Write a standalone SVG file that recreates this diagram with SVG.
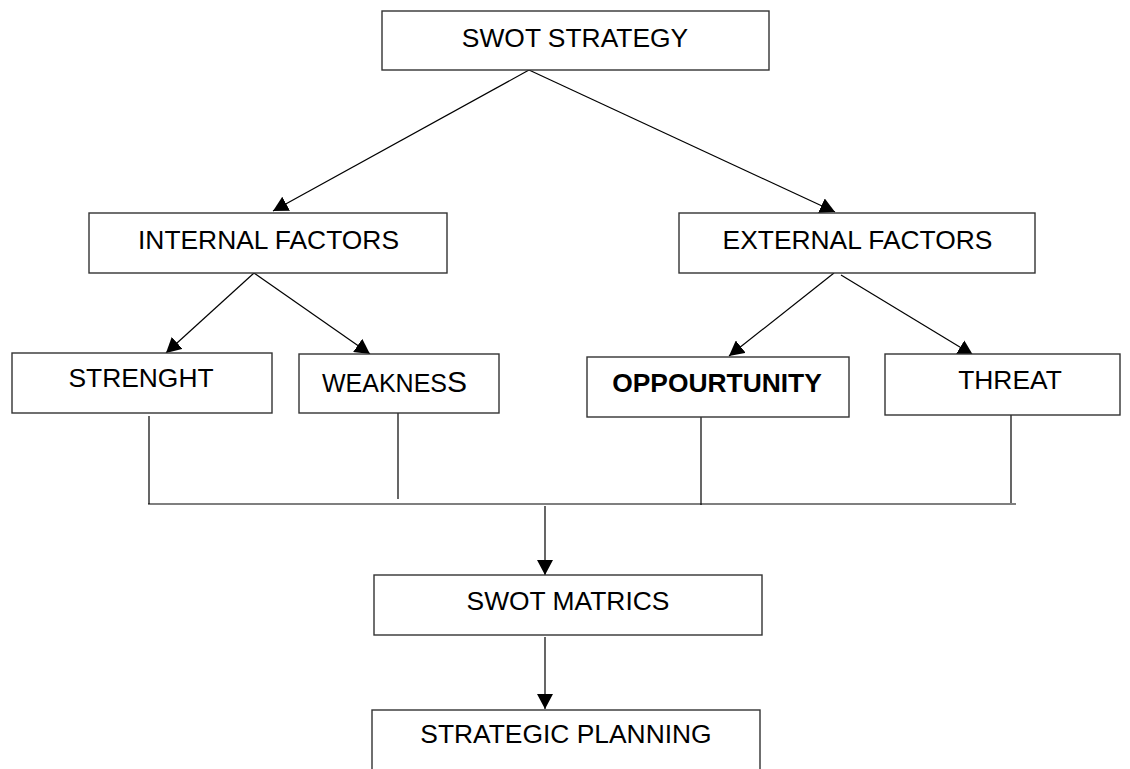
<svg xmlns="http://www.w3.org/2000/svg" width="1130" height="769" viewBox="0 0 1130 769">
<style>
.box{fill:#fff;stroke:#333;stroke-width:1.4}
.lbl{font-family:"Liberation Sans",Arial,sans-serif;font-size:26.4px;fill:#000;text-anchor:middle}
.bold{font-weight:bold}
.ln{stroke:#000;stroke-width:1.2;fill:none}
.arr{marker-end:url(#ah)}
</style>
<defs>
<marker id="ah" markerUnits="userSpaceOnUse" markerWidth="16" markerHeight="16" refX="15" refY="8" orient="auto">
<path d="M0,0 L15,8 L0,16 z" fill="#000"/>
</marker>
</defs>
<rect width="1130" height="769" fill="#fff"/>
<g id="connectors">
<line class="ln arr" x1="529" y1="70" x2="273" y2="211"/>
<line class="ln arr" x1="529" y1="70" x2="835" y2="212"/>
<line class="ln arr" x1="254" y1="273" x2="166" y2="353"/>
<line class="ln arr" x1="254" y1="273" x2="370" y2="354"/>
<line class="ln arr" x1="834" y1="273" x2="729" y2="356"/>
<line class="ln arr" x1="841" y1="275" x2="973" y2="355"/>
<line class="ln" x1="149" y1="416" x2="149" y2="504"/>
<line class="ln" x1="398" y1="409" x2="398" y2="499"/>
<line class="ln" x1="701" y1="415" x2="701" y2="505"/>
<line class="ln" x1="1011" y1="413" x2="1011" y2="503"/>
<line class="ln" x1="148" y1="504" x2="1016" y2="504"/>
<line class="ln arr" x1="545" y1="506" x2="545" y2="575"/>
<line class="ln arr" x1="545" y1="637" x2="545" y2="709"/>
</g>
<g id="swot-strategy">
<rect class="box" x="382" y="11" width="387" height="59"/>
<text class="lbl" x="575" y="47">SWOT STRATEGY</text>
</g>
<g id="internal-factors">
<rect class="box" x="89" y="213" width="358" height="60"/>
<text class="lbl" x="268.5" y="249">INTERNAL FACTORS</text>
</g>
<g id="external-factors">
<rect class="box" x="679" y="213" width="356" height="60"/>
<text class="lbl" x="857.5" y="249">EXTERNAL FACTORS</text>
</g>
<g id="strenght">
<rect class="box" x="12" y="353" width="260" height="60"/>
<text class="lbl" x="141" y="387">STRENGHT</text>
</g>
<g id="weakness">
<rect class="box" x="299" y="354" width="200" height="59"/>
<text class="lbl" x="322" y="392" style="text-anchor:start;font-size:25px">WEAKNES<tspan style="font-size:30px">S</tspan></text>
</g>
<g id="oppourtunity">
<rect class="box" x="587" y="357" width="262" height="60"/>
<text class="lbl bold" x="717" y="392">OPPOURTUNITY</text>
</g>
<g id="threat">
<rect class="box" x="885" y="354" width="235" height="61"/>
<text class="lbl" x="1010" y="389">THREAT</text>
</g>
<g id="swot-matrics">
<rect class="box" x="374" y="575" width="388" height="60"/>
<text class="lbl" x="568" y="610">SWOT MATRICS</text>
</g>
<g id="strategic-planning">
<rect class="box" x="372" y="710" width="388" height="80"/>
<text class="lbl" x="566" y="743">STRATEGIC PLANNING</text>
</g>
</svg>
